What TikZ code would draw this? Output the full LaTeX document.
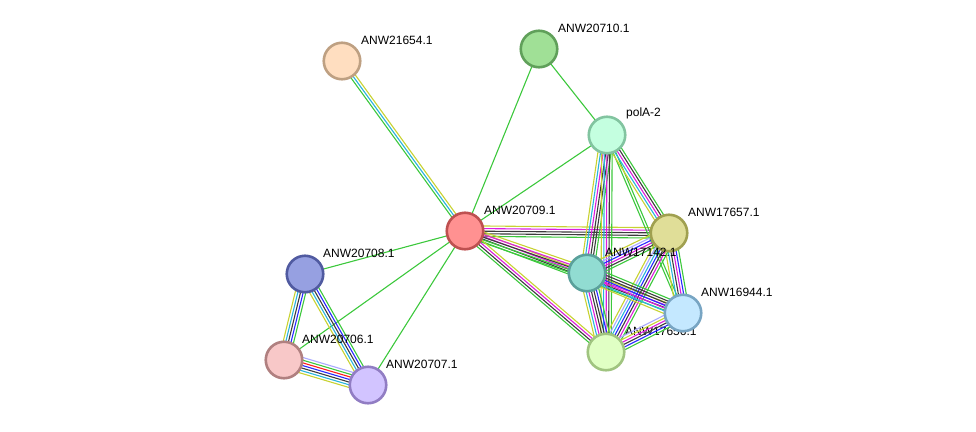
\documentclass[tikz,border=0pt]{standalone}
\usepackage{fontspec}
\setmainfont{Liberation Sans}
\usetikzlibrary{calc}
\pgfdeclarelayer{bg}
\pgfdeclarelayer{lbl}
\pgfsetlayers{lbl,bg,main}
\definecolor{eG}{RGB}{60,200,60}
\definecolor{eC}{RGB}{40,180,220}
\definecolor{eY}{RGB}{200,210,50}
\definecolor{eK}{RGB}{60,60,60}
\definecolor{eM}{RGB}{220,30,220}
\definecolor{eB}{RGB}{40,40,255}
\definecolor{eR}{RGB}{255,30,30}
\definecolor{eL}{RGB}{170,170,255}
\tikzset{
  prot/.style={circle, minimum size=36.5pt, inner sep=0pt, line width=2.6pt},
  strand/.style={line width=1.1pt},
  lab/.style={anchor=south west, inner sep=0pt, font=\fontsize{12}{14}\selectfont}
}
\newcommand{\stredge}[4]{%
  \foreach \c [count=\i] in {#4} {
    \pgfmathsetmacro{\o}{(\i-(#3+1)/2)*2.6}
    \draw[strand,draw=\c] ($(#1)!\o pt!90:(#2)$) -- ($(#2)!\o pt!-90:(#1)$);
  }
}
\begin{document}
\begin{tikzpicture}[x=1pt,y=-1pt]
\useasboundingbox (0,0) rectangle (976,431);
% nodes
\node[prot, fill={rgb,255:red,255;green,222;blue,192}, draw={rgb,255:red,190;green,160;blue,130}] (n21654) at (342,61) {};
\node[prot, fill={rgb,255:red,160;green,224;blue,150}, draw={rgb,255:red,96;green,160;blue,90}] (n20710) at (539,49) {};
\node[prot, fill={rgb,255:red,196;green,255;blue,224}, draw={rgb,255:red,130;green,196;blue,160}] (npolA) at (607,135) {};
\node[prot, fill={rgb,255:red,255;green,145;blue,145}, draw={rgb,255:red,190;green,80;blue,80}] (n20709) at (465,231) {};
\node[prot, fill={rgb,255:red,224;green,222;blue,152}, draw={rgb,255:red,160;green,160;blue,80}] (n17657) at (669,233) {};
\node[prot, fill={rgb,255:red,145;green,220;blue,210}, draw={rgb,255:red,90;green,160;blue,155}] (n17142) at (587,273) {};
\node[prot, fill={rgb,255:red,196;green,232;blue,255}, draw={rgb,255:red,120;green,165;blue,195}] (n16944) at (683,313) {};
\node[prot, fill={rgb,255:red,224;green,255;blue,196}, draw={rgb,255:red,160;green,196;blue,128}] (n17656) at (606,352) {};
\node[prot, fill={rgb,255:red,150;green,160;blue,225}, draw={rgb,255:red,80;green,90;blue,160}] (n20708) at (305,274) {};
\node[prot, fill={rgb,255:red,248;green,200;blue,200}, draw={rgb,255:red,176;green,128;blue,128}] (n20706) at (284,360) {};
\node[prot, fill={rgb,255:red,210;green,196;blue,255}, draw={rgb,255:red,145;green,125;blue,195}] (n20707) at (368,385) {};
% edges
\begin{pgfonlayer}{bg}
\stredge{n20709}{n21654}{3}{eY,eC,eG}
\stredge{n20709}{n20710}{1}{eG}
\stredge{n20710}{npolA}{1}{eG}
\stredge{npolA}{n20709}{1}{eG}
\stredge{n20709}{n20708}{1}{eG}
\stredge{n20709}{n20706}{1}{eG}
\stredge{n20709}{n20707}{1}{eG}
\stredge{n20709}{n17657}{5}{eG,eK,eK,eM,eY}
\stredge{n20709}{n16944}{4}{eG,eK,eM,eY}
\stredge{n20709}{n17142}{5}{eG,eG,eK,eM,eY}
\stredge{n20709}{n17656}{4}{eG,eK,eM,eY}
\stredge{npolA}{n16944}{2}{eG,eG}
\stredge{npolA}{n17657}{5}{eY,eC,eM,eK,eG}
\stredge{npolA}{n17142}{6}{eY,eC,eM,eK,eK,eG}
\stredge{npolA}{n17656}{5}{eY,eC,eM,eK,eG}
\stredge{n17657}{n17142}{6}{eY,eL,eB,eM,eK,eG}
\stredge{n17657}{n16944}{6}{eY,eC,eK,eM,eB,eG}
\stredge{n17657}{n17656}{7}{eY,eL,eC,eB,eK,eM,eG}
\stredge{n17142}{n16944}{7}{eY,eC,eM,eB,eK,eK,eG}
\stredge{n17142}{n17656}{7}{eY,eC,eM,eK,eK,eB,eG}
\stredge{n16944}{n17656}{6}{eL,eY,eM,eK,eB,eG}
\stredge{n20708}{n20706}{5}{eY,eC,eK,eB,eG}
\stredge{n20708}{n20707}{5}{eY,eC,eK,eB,eG}
\stredge{n20706}{n20707}{7}{eY,eC,eK,eB,eR,eG,eL}
\end{pgfonlayer}
% labels
\node[lab] (l21654) at ($(n21654)+(19,-16)$) {ANW21654.1};
\node[lab] (l20710) at ($(n20710)+(19,-16)$) {ANW20710.1};
\node[lab] (lpolA) at ($(npolA)+(19,-16)$) {polA-2};
\node[lab] (l20709) at ($(n20709)+(19,-16)$) {ANW20709.1};
\node[lab] (l17657) at ($(n17657)+(19,-16)$) {ANW17657.1};
\node[lab] (l17142) at ($(n17142)+(18,-16)$) {ANW17142.1};
\node[lab] (l16944) at ($(n16944)+(18,-16)$) {ANW16944.1};
\begin{pgfonlayer}{lbl}
\node[lab] (l17656) at ($(n17656)+(19,-16)$) {ANW17656.1};
\end{pgfonlayer}
\node[lab] (l20708) at ($(n20708)+(18,-16)$) {ANW20708.1};
\node[lab] (l20706) at ($(n20706)+(18,-16)$) {ANW20706.1};
\node[lab] (l20707) at ($(n20707)+(18,-16)$) {ANW20707.1};
\end{tikzpicture}
\end{document}
